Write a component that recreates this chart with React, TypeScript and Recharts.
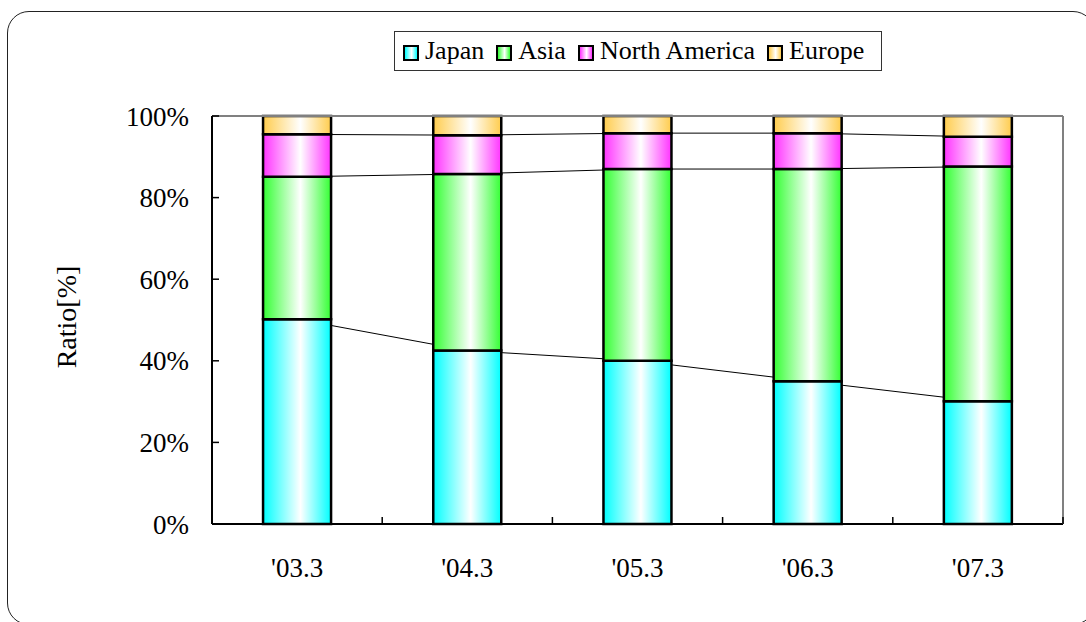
import React from "react";
import {
  ComposedChart,
  Bar,
  Line,
  XAxis,
  YAxis,
  ReferenceLine,
} from "recharts";

const years = ["'03.3", "'04.3", "'05.3", "'06.3", "'07.3"];
const japan = [50.2, 42.5, 40.0, 35.0, 30.1];
const asia = [34.9, 43.3, 47.0, 52.0, 57.5];
const northAmerica = [10.4, 9.5, 8.8, 8.8, 7.3];
const europe = [4.5, 4.7, 4.2, 4.2, 5.1];
const yTicks = [0, 20, 40, 60, 80, 100];

const series = [
  { key: "japan", name: "Japan", color: "#00ffff" },
  { key: "asia", name: "Asia", color: "#33ff33" },
  { key: "na", name: "North America", color: "#ff33ff" },
  { key: "europe", name: "Europe", color: "#ffcc4d" },
];

const data = years.map((y, i) => ({
  year: y,
  japan: japan[i],
  asia: asia[i],
  na: northAmerica[i],
  europe: europe[i],
  cumJ: japan[i],
  cumA: japan[i] + asia[i],
  cumN: japan[i] + asia[i] + northAmerica[i],
}));

const font = "Liberation Serif";
const X_TICK_GAP = 34;
const Y_TICK_GAP = 23;

// category label plus inward tick marks at the category boundaries
function XTick(props: any) {
  const { x, y, payload, index, visibleTicksCount } = props;
  const half = payload.offset || 0;
  const axisY = y - X_TICK_GAP;
  const last = index === visibleTicksCount - 1;
  return (
    <g>
      <line x1={x - half} x2={x - half} y1={axisY} y2={axisY - 7} stroke="#000" strokeWidth={1.5} />
      {last && (
        <line x1={x + half} x2={x + half} y1={axisY} y2={axisY - 7} stroke="#000" strokeWidth={1.5} />
      )}
      <text x={x} y={y} dy="0.71em" textAnchor="middle" fontSize={27} fontFamily={font} fill="#000">
        {payload.value}
      </text>
    </g>
  );
}

function YTick(props: any) {
  const { x, y, payload } = props;
  const axisX = x + Y_TICK_GAP;
  return (
    <g>
      <line x1={axisX} x2={axisX + 7} y1={y} y2={y} stroke="#000" strokeWidth={1.5} />
      <text x={x} y={y} dy="0.355em" textAnchor="end" fontSize={27} fontFamily={font} fill="#000">
        {payload.value + "%"}
      </text>
    </g>
  );
}

function LegendBox() {
  return (
    <div
      style={{
        position: "absolute",
        left: 394,
        top: 31,
        width: 488,
        height: 40,
        border: "1px solid #333",
        background: "#fff",
        display: "flex",
        alignItems: "center",
        paddingLeft: 8,
        boxSizing: "border-box",
        fontFamily: font,
        fontSize: 26,
        color: "#000",
        zIndex: 2,
      }}
    >
      {series.map((s) => (
        <div key={s.key} style={{ display: "flex", alignItems: "center", marginRight: 12 }}>
          <span
            style={{
              display: "inline-block",
              width: 12,
              height: 12,
              marginTop: 4,
              border: "2px solid #000",
              marginRight: 6,
              background: `linear-gradient(to right, ${s.color}, #fff 55%, ${s.color})`,
            }}
          />
          <span>{s.name}</span>
        </div>
      ))}
    </div>
  );
}

export default function App() {
  return (
    <div style={{ position: "absolute", left: 0, top: 0, width: 1086, height: 622, overflow: "hidden", background: "#fff" }}>
      <div
        style={{
          position: "absolute",
          left: 7,
          top: 11,
          width: 1088,
          height: 614,
          border: "1.5px solid #222",
          borderRadius: 22,
          boxSizing: "border-box",
        }}
      />
      <LegendBox />
      <div style={{ position: "absolute", left: 0, top: 0 }}>
        <ComposedChart
          width={1086}
          height={622}
          data={data}
          margin={{ top: 116, right: 22, bottom: 38, left: 132 }}
          barCategoryGap="30%"
        >
          <defs>
            {series.map((s) => (
              <linearGradient key={s.key} id={"g-" + s.key} x1="0" y1="0" x2="1" y2="0">
                <stop offset="0%" stopColor={s.color} />
                <stop offset="55%" stopColor="#ffffff" />
                <stop offset="100%" stopColor={s.color} />
              </linearGradient>
            ))}
          </defs>
          <XAxis
            dataKey="year"
            height={60}
            tickLine={false}
            tickSize={0}
            tickMargin={X_TICK_GAP}
            axisLine={{ stroke: "#000", strokeWidth: 2 }}
            tick={<XTick />}
            interval={0}
          />
          <YAxis
            width={80}
            domain={[0, 100]}
            ticks={yTicks}
            tickLine={false}
            tickSize={0}
            tickMargin={Y_TICK_GAP}
            axisLine={{ stroke: "#000", strokeWidth: 2 }}
            tick={<YTick />}
            label={{
              content: () => (
                <text
                  x={66}
                  y={317}
                  transform="rotate(-90 66 317)"
                  textAnchor="middle"
                  dominantBaseline="central"
                  fontSize={28}
                  fontFamily={font}
                  fill="#000"
                >
                  Ratio[%]
                </text>
              ),
            }}
          />
          <YAxis
            yAxisId="r"
            orientation="right"
            width={1}
            domain={[0, 100]}
            tick={false}
            tickLine={false}
            axisLine={{ stroke: "#808080", strokeWidth: 2 }}
          />
          <ReferenceLine y={100} stroke="#808080" strokeWidth={2} />
          {["cumJ", "cumA", "cumN"].map((k) => (
            <Line
              key={k}
              dataKey={k}
              type="linear"
              stroke="#000"
              strokeWidth={1}
              dot={false}
              activeDot={false}
              legendType="none"
              isAnimationActive={false}
              zIndex={100}
            />
          ))}
          {series.map((s) => (
            <Bar
              key={s.key}
              dataKey={s.key}
              name={s.name}
              stackId="a"
              fill={`url(#g-${s.key})`}
              stroke="#000"
              strokeWidth={2.5}
              isAnimationActive={false}
            />
          ))}
        </ComposedChart>
      </div>
    </div>
  );
}
